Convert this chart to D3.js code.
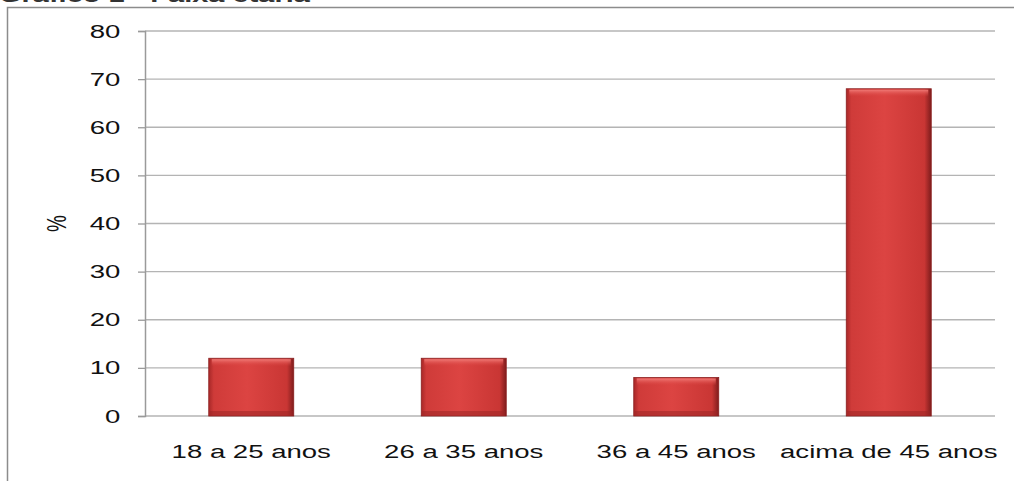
<!DOCTYPE html>
<html>
<head>
<meta charset="utf-8">
<script src="https://cdn.jsdelivr.net/npm/d3@7"></script>
<style>
  body { margin: 0; background: #fff; }
  text { font-family: "Liberation Sans", Arial, sans-serif; }
</style>
</head>
<body>
<script>
// data
var categories = ["18 a 25 anos", "26 a 35 anos", "36 a 45 anos", "acima de 45 anos"];
var values = [12, 12, 8, 68];
var yTicks = [0, 10, 20, 30, 40, 50, 60, 70, 80];

var W = 1014, H = 481;
var margin = {top: 31, right: 19, bottom: 65, left: 145};
var sx = 1.45; // the source picture is stretched horizontally

var svg = d3.select("body").append("svg")
  .attr("width", W)
  .attr("height", H);

var defs = svg.append("defs");
var grad = defs.append("linearGradient").attr("id", "barGrad")
  .attr("x1", "0%").attr("x2", "100%").attr("y1", "0%").attr("y2", "0%");
grad.append("stop").attr("offset", "0%").attr("stop-color", "#a82828");
grad.append("stop").attr("offset", "6%").attr("stop-color", "#cf3b39");
grad.append("stop").attr("offset", "45%").attr("stop-color", "#dc4442");
grad.append("stop").attr("offset", "92%").attr("stop-color", "#c93634");
grad.append("stop").attr("offset", "100%").attr("stop-color", "#7e1c1c");

var topGrad = defs.append("linearGradient").attr("id", "topGrad")
  .attr("x1", "0%").attr("x2", "0%").attr("y1", "0%").attr("y2", "100%");
topGrad.append("stop").attr("offset", "0%").attr("stop-color", "#f07a76");
topGrad.append("stop").attr("offset", "100%").attr("stop-color", "#dc4442").attr("stop-opacity", 0);

// title, cut off at the top edge like in the source
svg.append("text")
  .attr("transform", "translate(-1,1.5) scale(" + sx + ",1)")
  .attr("font-size", 20).attr("font-weight", "bold").attr("fill", "#333")
  .text("Gráfico 1 - Faixa etária");

// outer frame
svg.append("rect")
  .attr("x", 7.5).attr("y", 7.5)
  .attr("width", W + 20).attr("height", H + 20)
  .attr("fill", "none").attr("stroke", "#8c8c8c").attr("stroke-width", 1.5);

var x = d3.scaleBand()
  .domain(categories)
  .range([margin.left, W - margin.right])
  .paddingInner(0.6).paddingOuter(0.3);

var y = d3.scaleLinear()
  .domain([0, 80])
  .range([H - margin.bottom, margin.top]);

// gridlines
svg.append("g").selectAll("line").data(yTicks).join("line")
  .attr("x1", margin.left).attr("x2", W - margin.right)
  .attr("y1", function(d) { return y(d); }).attr("y2", function(d) { return y(d); })
  .attr("stroke", "#b4b4b4").attr("stroke-width", 1.3);

// y axis
var yAxis = svg.append("g")
  .attr("transform", "translate(" + margin.left + ",0)")
  .call(d3.axisLeft(y).tickValues(yTicks).tickSize(7).tickPadding(10));
yAxis.select(".domain").attr("stroke", "#9a9a9a").attr("stroke-width", 1.5);
yAxis.selectAll(".tick line").attr("stroke", "#9a9a9a").attr("stroke-width", 1.3);
yAxis.selectAll(".tick text").attr("font-size", 19).attr("fill", "#111")
  .attr("transform", "scale(" + sx + ",1)")
  .style("font-family", "Liberation Sans, Arial, sans-serif");

// y label
svg.append("text")
  .attr("transform", "translate(66," + y(40) + ") scale(" + sx + ",1) rotate(-90)")
  .attr("text-anchor", "middle")
  .attr("font-size", 19).attr("fill", "#111")
  .text("%");

// bars
var bars = svg.append("g").selectAll("g").data(values).join("g");
bars.append("rect")
  .attr("x", function(d, i) { return x(categories[i]); })
  .attr("y", function(d) { return y(d); })
  .attr("width", x.bandwidth())
  .attr("height", function(d) { return y(0) - y(d); })
  .attr("fill", "url(#barGrad)")
  .attr("stroke", "#8a2020").attr("stroke-width", 0.8);
bars.append("rect")
  .attr("x", function(d, i) { return x(categories[i]) + 3; })
  .attr("y", function(d) { return y(d) + 1; })
  .attr("width", x.bandwidth() - 6)
  .attr("height", 7)
  .attr("fill", "url(#topGrad)");
bars.append("rect")
  .attr("x", function(d, i) { return x(categories[i]) + 1; })
  .attr("y", function(d) { return y(0) - 5; })
  .attr("width", x.bandwidth() - 2)
  .attr("height", 5)
  .attr("fill", "#9c2626").attr("opacity", 0.55);

// x labels
svg.append("g").selectAll("text").data(categories).join("text")
  .attr("transform", function(d) {
    return "translate(" + (x(d) + x.bandwidth() / 2) + ",458) scale(" + sx + ",1)";
  })
  .attr("text-anchor", "middle")
  .attr("font-size", 19).attr("fill", "#111")
  .text(function(d) { return d; });
</script>
</body>
</html>
